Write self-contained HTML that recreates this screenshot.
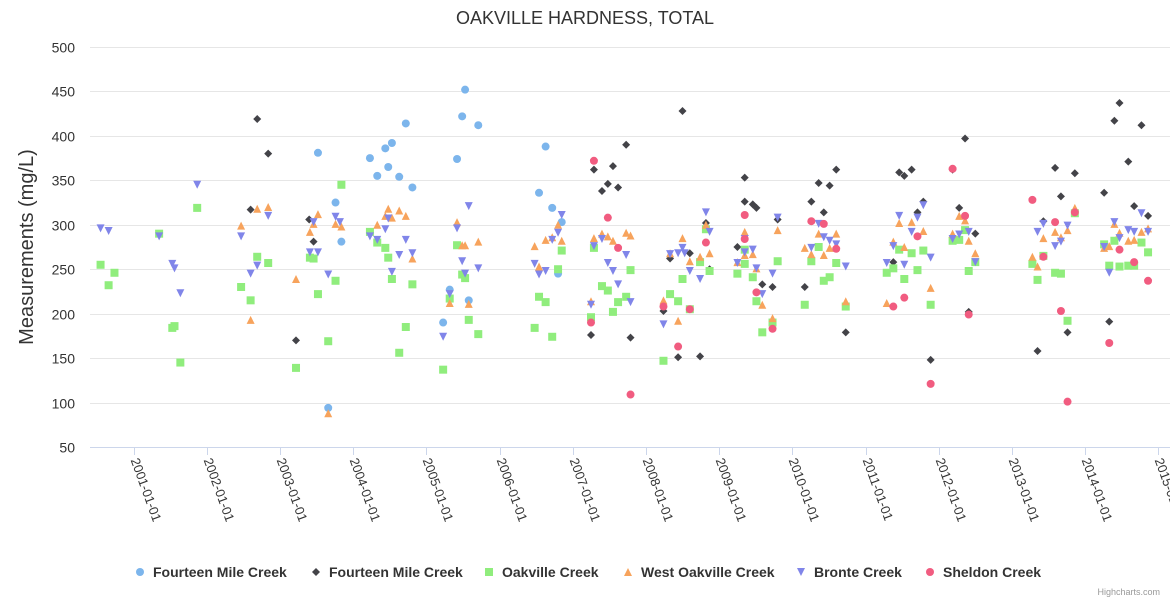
<!DOCTYPE html>
<html><head><meta charset="utf-8"><style>
html,body{margin:0;padding:0;background:#fff;}
svg{display:block;font-family:"Liberation Sans",sans-serif;}
</style></head><body>
<svg id="chart" width="1170" height="600" xmlns="http://www.w3.org/2000/svg">
<rect width="1170" height="600" fill="#fff"/>
<text x="585" y="24" text-anchor="middle" font-size="18" fill="#333">OAKVILLE HARDNESS, TOTAL</text>
<text transform="translate(33,247) rotate(-90)" text-anchor="middle" font-size="20" fill="#333">Measurements (mg/L)</text>
<g id="grid"></g><g id="xaxis"></g><g id="marks"></g><g id="legend"></g>
<text x="1160" y="595" text-anchor="end" font-size="9" fill="#999">Highcharts.com</text>
</svg>
<script>
const yTicks=[50,100,150,200,250,300,350,400,450,500];
const xTickYears=[2001,2002,2003,2004,2005,2006,2007,2008,2009,2010,2011,2012,2013,2014,2015];
const seriesNames=["Fourteen Mile Creek","Fourteen Mile Creek","Oakville Creek","West Oakville Creek","Bronte Creek","Sheldon Creek"];
const fourteenMileA=[[2003.52,381],[2003.76,325],[2003.84,281],[2003.66,94],[2004.23,375],[2004.33,355],[2004.44,386],[2004.53,392],[2004.48,365],[2004.63,354],[2004.72,414],[2004.81,342],[2005.53,452],[2005.49,422],[2005.71,412],[2005.42,374],[2005.32,227],[2005.58,215],[2005.23,190],[2006.63,388],[2006.54,336],[2006.72,319],[2006.85,303],[2006.80,245]];
const fourteenMileB=[[2002.69,419],[2002.84,380],[2002.60,317],[2003.22,170],[2003.40,306],[2003.46,281],[2008.50,428],[2007.73,390],[2007.29,362],[2007.55,366],[2007.48,346],[2007.40,338],[2007.62,342],[2007.25,176],[2007.79,173],[2008.24,203],[2008.33,262],[2008.60,268],[2008.44,151],[2008.74,152],[2008.82,302],[2008.87,250],[2009.25,275],[2009.35,353],[2009.35,326],[2009.46,323],[2009.51,319],[2009.59,233],[2009.73,230],[2009.80,306],[2010.17,230],[2010.26,326],[2010.36,347],[2010.43,314],[2010.51,344],[2010.60,362],[2010.73,179],[2011.38,258],[2011.46,359],[2011.53,355],[2011.63,362],[2011.71,314],[2011.79,326],[2011.89,148],[2012.19,362],[2012.36,397],[2012.28,319],[2012.50,290],[2012.41,202],[2013.35,158],[2013.43,304],[2013.59,364],[2013.67,332],[2013.86,358],[2013.76,179],[2014.26,336],[2014.33,191],[2014.40,417],[2014.47,437],[2014.59,371],[2014.67,321],[2014.77,412],[2014.86,310]];
const oakville=[[2000.55,255],[2000.74,246],[2000.66,232],[2001.35,290],[2001.87,319],[2001.53,184],[2001.56,186],[2001.64,145],[2002.69,264],[2002.84,257],[2002.47,230],[2002.60,215],[2003.22,139],[2003.41,263],[2003.46,262],[2003.52,222],[2003.76,237],[2003.66,169],[2003.84,345],[2004.23,292],[2004.33,280],[2004.44,274],[2004.48,263],[2004.53,239],[2004.81,233],[2004.72,185],[2004.63,156],[2005.42,277],[2005.49,244],[2005.53,240],[2005.32,217],[2005.58,193],[2005.71,177],[2005.23,137],[2006.85,271],[2006.80,250],[2006.54,219],[2006.63,213],[2006.48,184],[2006.72,174],[2007.29,274],[2007.40,231],[2007.48,226],[2007.62,213],[2007.55,202],[2007.73,219],[2007.79,249],[2007.25,196],[2008.24,147],[2008.33,222],[2008.44,214],[2008.50,239],[2008.60,205],[2008.74,258],[2008.82,295],[2008.87,248],[2009.25,245],[2009.35,272],[2009.35,256],[2009.46,241],[2009.51,214],[2009.59,179],[2009.73,190],[2009.80,259],[2010.17,210],[2010.26,259],[2010.36,275],[2010.43,237],[2010.51,241],[2010.60,257],[2010.73,208],[2011.29,246],[2011.38,251],[2011.46,272],[2011.53,239],[2011.63,268],[2011.71,249],[2011.79,271],[2011.89,210],[2012.19,282],[2012.28,283],[2012.36,294],[2012.41,248],[2012.50,258],[2013.28,256],[2013.35,238],[2013.43,265],[2013.59,246],[2013.67,245],[2013.76,192],[2013.86,313],[2014.26,278],[2014.33,254],[2014.40,282],[2014.47,253],[2014.59,254],[2014.67,254],[2014.77,280],[2014.86,269]];
const westOakville=[[2002.69,318],[2002.84,320],[2002.47,299],[2002.60,193],[2003.22,239],[2003.41,292],[2003.46,301],[2003.52,312],[2003.66,88],[2003.76,301],[2003.84,298],[2004.33,300],[2004.44,310],[2004.48,318],[2004.53,308],[2004.63,316],[2004.72,310],[2004.81,262],[2005.42,303],[2005.49,277],[2005.53,277],[2005.71,281],[2005.32,212],[2005.58,211],[2006.48,276],[2006.63,283],[2006.72,286],[2006.80,300],[2006.85,282],[2006.54,253],[2007.29,285],[2007.40,290],[2007.48,287],[2007.55,282],[2007.73,291],[2007.79,288],[2007.25,214],[2008.24,215],[2008.33,268],[2008.50,285],[2008.60,259],[2008.44,192],[2008.74,264],[2008.82,300],[2008.87,268],[2009.25,258],[2009.35,292],[2009.35,266],[2009.46,267],[2009.51,251],[2009.59,210],[2009.73,195],[2009.80,294],[2010.17,274],[2010.26,267],[2010.36,290],[2010.43,266],[2010.51,274],[2010.60,290],[2010.73,214],[2011.29,212],[2011.38,281],[2011.46,302],[2011.53,275],[2011.63,303],[2011.79,293],[2011.89,229],[2012.19,290],[2012.28,310],[2012.36,305],[2012.41,282],[2012.50,268],[2013.28,264],[2013.35,253],[2013.43,285],[2013.59,292],[2013.67,286],[2013.76,294],[2013.86,319],[2014.26,274],[2014.33,276],[2014.40,301],[2014.47,291],[2014.59,282],[2014.67,283],[2014.77,292],[2014.86,296]];
const bronte=[[2000.55,296],[2000.66,293],[2001.35,287],[2001.53,256],[2001.56,251],[2001.64,223],[2001.87,345],[2002.47,287],[2002.60,245],[2002.69,254],[2002.84,310],[2003.41,269],[2003.52,269],[2003.46,303],[2003.66,244],[2003.76,309],[2003.82,303],[2004.23,287],[2004.33,283],[2004.44,295],[2004.48,307],[2004.53,247],[2004.63,266],[2004.72,283],[2004.81,268],[2005.23,174],[2005.32,222],[2005.42,296],[2005.49,259],[2005.53,245],[2005.58,321],[2005.71,251],[2006.48,256],[2006.54,244],[2006.63,248],[2006.72,283],[2006.80,291],[2006.85,311],[2007.29,276],[2007.40,284],[2007.48,257],[2007.55,248],[2007.62,233],[2007.73,266],[2007.79,213],[2007.25,210],[2008.24,188],[2008.33,267],[2008.44,268],[2008.50,274],[2008.53,268],[2008.60,248],[2008.74,239],[2008.82,314],[2008.87,292],[2009.25,257],[2009.35,284],[2009.35,269],[2009.46,272],[2009.51,251],[2009.59,222],[2009.73,245],[2009.80,308],[2010.26,274],[2010.36,301],[2010.43,286],[2010.51,282],[2010.60,278],[2010.73,253],[2011.29,257],[2011.38,276],[2011.46,310],[2011.53,255],[2011.63,292],[2011.71,308],[2011.79,322],[2011.89,263],[2012.19,284],[2012.28,289],[2012.41,292],[2012.50,258],[2013.35,292],[2013.43,301],[2013.59,276],[2013.67,281],[2013.76,299],[2014.26,275],[2014.33,246],[2014.40,303],[2014.47,285],[2014.59,294],[2014.67,292],[2014.77,313],[2014.86,292]];
const sheldon=[[2007.29,372],[2007.48,308],[2007.62,274],[2007.25,190],[2007.79,109],[2008.24,208],[2008.44,163],[2008.60,205],[2008.82,280],[2009.35,311],[2009.35,284],[2009.51,224],[2009.73,183],[2010.26,304],[2010.43,301],[2010.60,273],[2011.38,208],[2011.53,218],[2011.71,287],[2011.89,121],[2012.19,363],[2012.36,310],[2012.41,199],[2013.28,328],[2013.43,264],[2013.59,303],[2013.67,203],[2013.76,101],[2013.86,314],[2014.33,167],[2014.47,272],[2014.67,258],[2014.86,237]];

const NS="http://www.w3.org/2000/svg";
const X0=90,X1=1170,Y0=447,Y1=47;
function xScale(yr){return 133.5+(yr-2001)*73.2;}
function yScale(v){return Y0-(v-50)*(Y0-Y1)/450;}
function mk(tag,attrs,parent){const e=document.createElementNS(NS,tag);for(const k in attrs)e.setAttribute(k,attrs[k]);parent.appendChild(e);return e;}
const grid=document.getElementById('grid'),xa=document.getElementById('xaxis'),marks=document.getElementById('marks'),leg=document.getElementById('legend');
yTicks.forEach(v=>{
  const y=Math.round(yScale(v))+0.5;
  const l=mk('line',{x1:X0,x2:X1,y1:y,y2:y,stroke:v===50?'#ccd6eb':'#e6e6e6','stroke-width':1},grid);
  
  
  const t=mk('text',{x:75,y:y+5,'text-anchor':'end','font-size':14,fill:'#333'},grid);
  t.textContent=v;
  
  
});
xTickYears.forEach(yr=>{
  const x=Math.round(xScale(yr))+0.5;
  const tk=mk('line',{x1:x,x2:x,y1:447,y2:455,stroke:'#ccd6eb'},xa);
  
  
  const t=mk('text',{x:x-4,y:460,'font-size':13,fill:'#333',transform:'rotate(70 '+(x-4)+' 460)'},xa);
  t.textContent=yr+'-01-01';
  
  
});
const colors=['#7cb5ec','#434348','#90ed7d','#f7a35c','#8085e9','#f15c80'];
const shapes=['circle','diamond','square','triangle','triangle-down','circle'];
function symbol(shape,x,y,c,parent){
  const r=4;
  if(shape==='circle')return mk('circle',{cx:x,cy:y,r:r,fill:c},parent);
  if(shape==='square')return mk('rect',{x:x-r,y:y-r,width:2*r,height:2*r,fill:c},parent);
  if(shape==='diamond')return mk('path',{d:`M${x} ${y-r}L${x+r} ${y}L${x} ${y+r}L${x-r} ${y}Z`,fill:c},parent);
  if(shape==='triangle')return mk('path',{d:`M${x} ${y-r}L${x+r} ${y+r}L${x-r} ${y+r}Z`,fill:c},parent);
  return mk('path',{d:`M${x-r} ${y-r}L${x+r} ${y-r}L${x} ${y+r}Z`,fill:c},parent);
}
const allSeries=[fourteenMileA,fourteenMileB,oakville,westOakville,bronte,sheldon];
allSeries.forEach((data,si)=>{
  const g=mk('g',{},marks);
  
  
  data.forEach(([yr,v])=>{
    const p=symbol(shapes[si],xScale(yr),yScale(v),colors[si],g);
    
    
  });
});
const legendX=[140,316,489,628,801,930];
seriesNames.forEach((n,i)=>{
  const g=mk('g',{},leg);
  
  
  symbol(shapes[i],legendX[i],572,colors[i],g);
  const t=mk('text',{x:legendX[i]+13,y:577,'font-size':14,'font-weight':'bold',fill:'#333'},g);
  t.textContent=n;
});
</script>
</body></html>
